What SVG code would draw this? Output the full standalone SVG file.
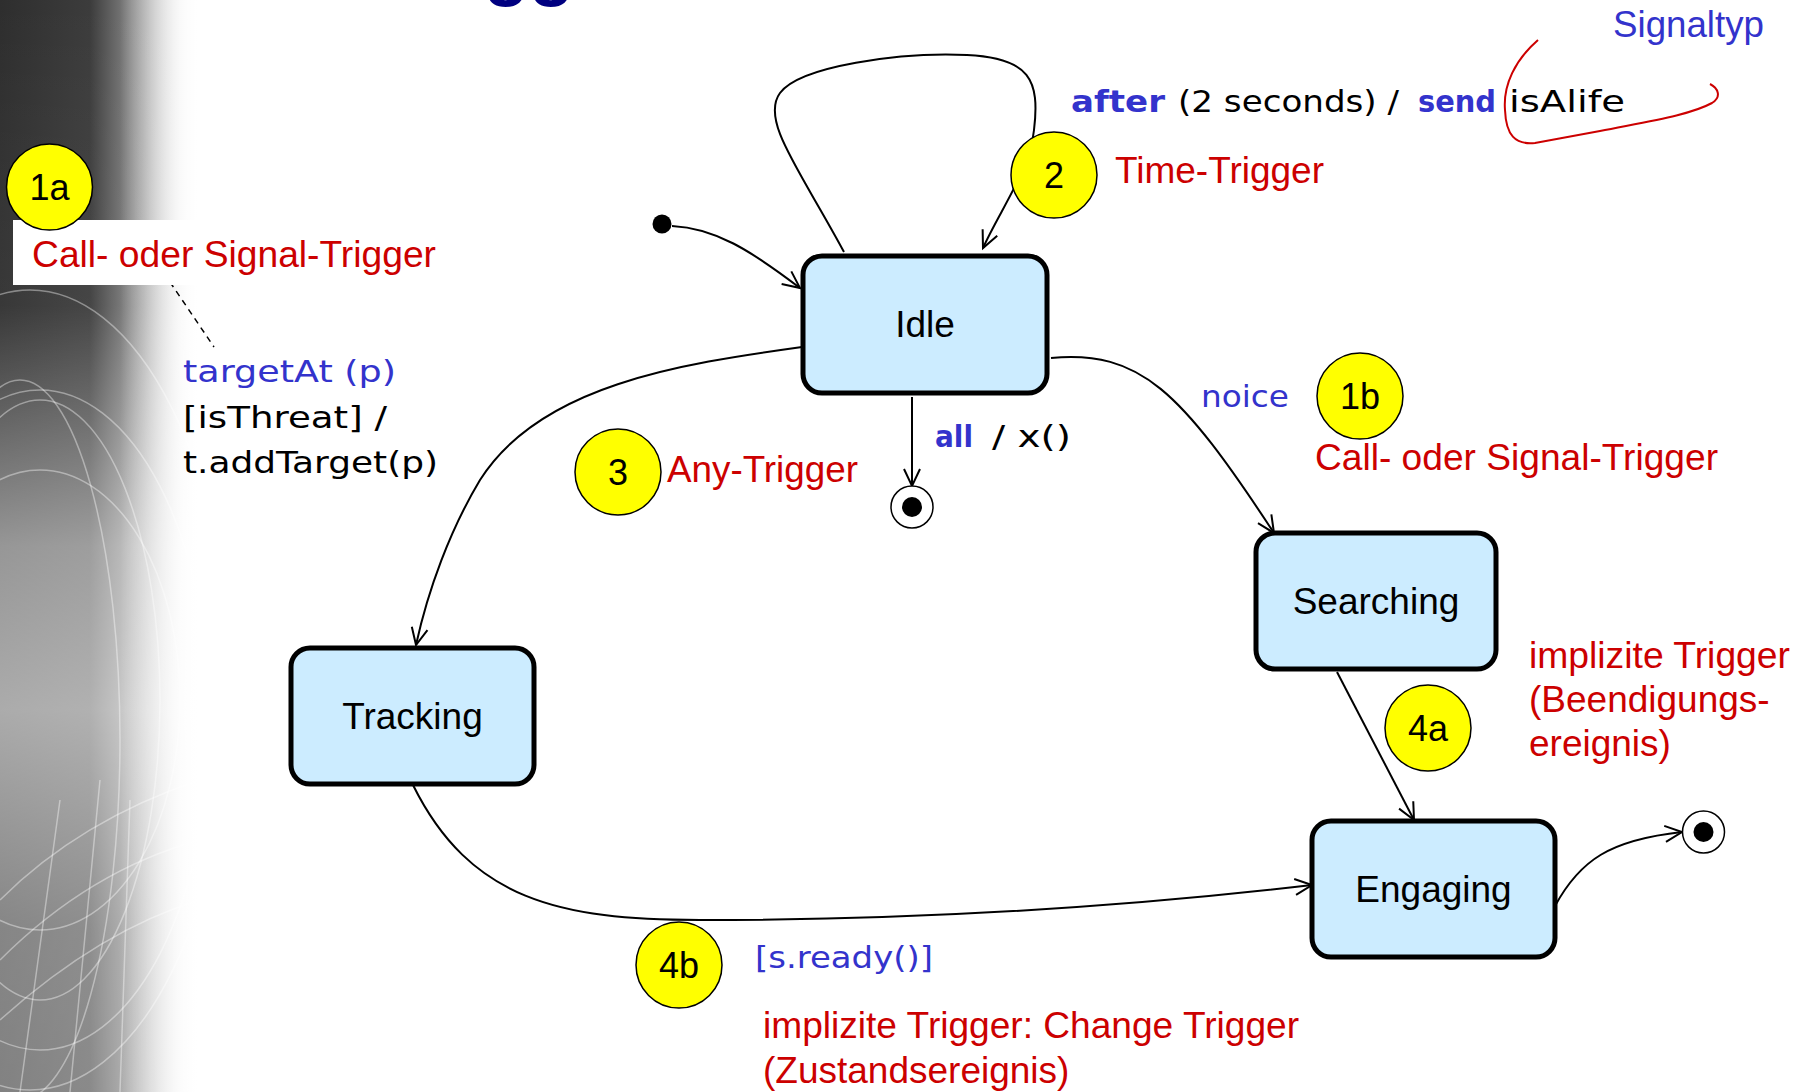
<svg xmlns="http://www.w3.org/2000/svg" width="1806" height="1092" viewBox="0 0 1806 1092">
<defs>
  <linearGradient id="bgH" x1="0" y1="0" x2="1" y2="0">
    <stop offset="0" stop-color="#2e2e2e"/>
    <stop offset="0.45" stop-color="#3c3c3c"/>
    <stop offset="0.72" stop-color="#9a9a9a"/>
    <stop offset="0.9" stop-color="#e8e8e8"/>
    <stop offset="1" stop-color="#ffffff"/>
  </linearGradient>
  <linearGradient id="bgV" x1="0" y1="0" x2="0" y2="1">
    <stop offset="0" stop-color="#ffffff" stop-opacity="0"/>
    <stop offset="0.28" stop-color="#ffffff" stop-opacity="0.05"/>
    <stop offset="0.5" stop-color="#ffffff" stop-opacity="0.5"/>
    <stop offset="0.65" stop-color="#ffffff" stop-opacity="0.6"/>
    <stop offset="0.85" stop-color="#ffffff" stop-opacity="0.42"/>
    <stop offset="1" stop-color="#ffffff" stop-opacity="0.4"/>
  </linearGradient>
  <linearGradient id="fadeR" x1="0" y1="0" x2="1" y2="0">
    <stop offset="0" stop-color="#ffffff" stop-opacity="0"/>
    <stop offset="0.6" stop-color="#ffffff" stop-opacity="0"/>
    <stop offset="1" stop-color="#ffffff" stop-opacity="1"/>
  </linearGradient>
  <clipPath id="bgClip"><rect x="0" y="0" width="200" height="1092"/></clipPath>
  <marker id="arr" markerUnits="userSpaceOnUse" markerWidth="24" markerHeight="24" viewBox="-20 -12 24 24" refX="0" refY="0" orient="auto">
    <path d="M -17,-8 L 0,0 L -17,8" fill="none" stroke="#000" stroke-width="2"/>
  </marker>
</defs>
<style>
  .state { fill: #CCECFF; stroke: #000; stroke-width: 5; }
  .sname { font-family: "Liberation Sans", Arial, sans-serif; font-size: 37px; fill: #000; text-anchor: middle; }
  .badge { fill: #FFFF00; stroke: #000; stroke-width: 1.5; }
  .btxt { font-family: "Liberation Sans", Arial, sans-serif; font-size: 36px; fill: #000; text-anchor: middle; }
  .red { font-family: "Liberation Sans", Arial, sans-serif; font-size: 37px; fill: #CC0000; }
  .blueA { font-family: "Liberation Sans", Arial, sans-serif; font-size: 37px; fill: #3333CC; }
  .cm { font-family: "DejaVu Sans", sans-serif; font-size: 31px; fill: #000; }
  .cmb { font-family: "DejaVu Sans", sans-serif; font-size: 31px; fill: #3333CC; }
  .cmbold { font-family: "DejaVu Sans", sans-serif; font-size: 31px; font-weight: bold; fill: #3333CC; }
  .conn { fill: none; stroke: #000; stroke-width: 2; }
  .ps { fill: #000; }
  .fin { fill: #fff; stroke: #000; stroke-width: 1.5; }
</style>

<!-- background -->
<rect x="0" y="0" width="1806" height="1092" fill="#ffffff"/>
<g id="background" clip-path="url(#bgClip)">
  <rect x="0" y="0" width="200" height="1092" fill="url(#bgH)"/>
  <rect x="0" y="0" width="200" height="1092" fill="url(#bgV)"/>
  <g fill="none" stroke="#ffffff" stroke-opacity="0.4" stroke-width="1.5">
    <ellipse cx="40" cy="700" rx="140" ry="230"/>
    <ellipse cx="40" cy="700" rx="120" ry="300"/>
    <ellipse cx="40" cy="720" rx="170" ry="330"/>
    <ellipse cx="20" cy="740" rx="100" ry="360"/>
    <ellipse cx="30" cy="690" rx="200" ry="400"/>
    <path d="M 0,900 Q 80,820 200,780"/>
    <path d="M 0,960 Q 90,870 200,840"/>
    <path d="M 0,1020 Q 100,930 200,900"/>
    <path d="M 20,1092 L 60,800 M 70,1092 L 100,780 M 120,1092 L 130,800"/>
  </g>
  <rect x="0" y="0" width="200" height="1092" fill="url(#fadeR)"/>
</g>

<!-- title fragment -->
<text x="484" y="-8" font-family="Liberation Sans, Arial, sans-serif" font-size="74" font-weight="bold" fill="#000080">gg</text>

<!-- connectors -->
<g id="connectors">
  <path class="conn" d="M 672,226 C 715,228 750,250 800,288" marker-end="url(#arr)"/>
  <path class="conn" d="M 844,252 C 800,170 760,120 780,93 C 800,66 900,52 967,55 C 1030,58 1040,80 1034,130 C 1030,170 1000,210 983,248" marker-end="url(#arr)"/>
  <path class="conn" d="M 802,347 C 680,364 540,385 480,480 C 450,530 428,590 416,645" marker-end="url(#arr)"/>
  <path class="conn" d="M 912,397 L 912,486" marker-end="url(#arr)"/>
  <path class="conn" d="M 1051,358 C 1140,350 1180,390 1274,533" marker-end="url(#arr)"/>
  <path class="conn" d="M 1337,672 L 1414,820" marker-end="url(#arr)"/>
  <path class="conn" d="M 413,785 C 470,900 560,920 700,920 C 900,920 1100,910 1312,885" marker-end="url(#arr)"/>
  <path class="conn" d="M 1555,906 C 1580,860 1610,840 1682,832" marker-end="url(#arr)"/>
  <path d="M 170,282 L 214,347" fill="none" stroke="#000" stroke-width="1.5" stroke-dasharray="6 5"/>
</g>

<!-- pseudostates -->
<g id="initial"><circle class="ps" cx="662" cy="224" r="9.5"/></g>
<g id="final-1"><circle class="fin" cx="912" cy="507" r="21"/><circle class="ps" cx="912" cy="507" r="10"/></g>
<g id="final-2"><circle class="fin" cx="1703.5" cy="832" r="21"/><circle class="ps" cx="1703.5" cy="832" r="10"/></g>

<!-- states -->
<g id="node-idle"><rect class="state" x="803" y="256" width="244" height="137" rx="19"/><text class="sname" x="925" y="337">Idle</text></g>
<g id="node-tracking"><rect class="state" x="291" y="648" width="243" height="136" rx="19"/><text class="sname" x="412.5" y="729">Tracking</text></g>
<g id="node-searching"><rect class="state" x="1256" y="533" width="240" height="136" rx="19"/><text class="sname" x="1376" y="614">Searching</text></g>
<g id="node-engaging"><rect class="state" x="1312" y="821" width="243" height="136" rx="19"/><text class="sname" x="1433.5" y="902">Engaging</text></g>

<!-- annotation 1a -->
<g id="note-1a">
  <rect x="13" y="220" width="430" height="65" fill="#ffffff"/>
  <circle class="badge" cx="49.5" cy="187" r="43"/>
  <text class="btxt" x="49.5" y="200">1a</text>
  <text class="red" x="32" y="267" textLength="404" lengthAdjust="spacingAndGlyphs">Call- oder Signal-Trigger</text>
</g>

<!-- transition label targetAt -->
<g id="label-targetAt">
  <text class="cmb" x="183" y="382" textLength="213" lengthAdjust="spacingAndGlyphs">targetAt (p)</text>
  <text class="cm" x="183" y="428" textLength="204" lengthAdjust="spacingAndGlyphs">[isThreat] /</text>
  <text class="cm" x="183" y="473" textLength="255" lengthAdjust="spacingAndGlyphs">t.addTarget(p)</text>
</g>

<!-- after label -->
<g id="label-after">
  <text class="cmbold" x="1071" y="112" textLength="94" lengthAdjust="spacingAndGlyphs">after</text>
  <text class="cm" x="1178" y="112" textLength="221" lengthAdjust="spacingAndGlyphs">(2 seconds) /</text>
  <text class="cmbold" x="1418" y="112" textLength="78" lengthAdjust="spacingAndGlyphs">send</text>
  <text class="cm" x="1509" y="112" textLength="116" lengthAdjust="spacingAndGlyphs">isAlife</text>
  <path d="M 1538,40 C 1515,60 1503,85 1505,110 C 1506,135 1515,145 1535,143 L 1600,131 C 1650,121 1690,115 1712,103 C 1722,97 1718,88 1710,84" fill="none" stroke="#CC0000" stroke-width="2"/>
  <text class="blueA" x="1613" y="37" textLength="151" lengthAdjust="spacingAndGlyphs">Signaltyp</text>
</g>

<!-- badge 2 -->
<g id="note-2">
  <circle class="badge" cx="1054" cy="175" r="43"/>
  <text class="btxt" x="1054" y="188">2</text>
  <text class="red" x="1115" y="183" textLength="209" lengthAdjust="spacingAndGlyphs">Time-Trigger</text>
</g>

<!-- badge 1b -->
<g id="note-1b">
  <text class="cmb" x="1201" y="407" textLength="88" lengthAdjust="spacingAndGlyphs">noice</text>
  <circle class="badge" cx="1360" cy="396" r="43"/>
  <text class="btxt" x="1360" y="409">1b</text>
  <text class="red" x="1315" y="470" textLength="403" lengthAdjust="spacingAndGlyphs">Call- oder Signal-Trigger</text>
</g>

<!-- badge 3 -->
<g id="note-3">
  <circle class="badge" cx="618" cy="472" r="43"/>
  <text class="btxt" x="618" y="485">3</text>
  <text class="red" x="667" y="482" textLength="191" lengthAdjust="spacingAndGlyphs">Any-Trigger</text>
  <text class="cmbold" x="935" y="447" textLength="38" lengthAdjust="spacingAndGlyphs">all</text>
  <text class="cm" x="992" y="447" textLength="79" lengthAdjust="spacingAndGlyphs">/ x()</text>
</g>

<!-- badge 4a -->
<g id="note-4a">
  <circle class="badge" cx="1428" cy="728" r="43"/>
  <text class="btxt" x="1428" y="741">4a</text>
  <text class="red" x="1529" y="668" textLength="261" lengthAdjust="spacingAndGlyphs">implizite Trigger</text>
  <text class="red" x="1529" y="712">(Beendigungs-</text>
  <text class="red" x="1529" y="756">ereignis)</text>
</g>

<!-- badge 4b -->
<g id="note-4b">
  <circle class="badge" cx="679" cy="965" r="43"/>
  <text class="btxt" x="679" y="978">4b</text>
  <text class="cmb" x="755" y="968" textLength="178" lengthAdjust="spacingAndGlyphs">[s.ready()]</text>
  <text class="red" x="763" y="1038" textLength="536" lengthAdjust="spacingAndGlyphs">implizite Trigger: Change Trigger</text>
  <text class="red" x="763" y="1083">(Zustandsereignis)</text>
</g>
</svg>
